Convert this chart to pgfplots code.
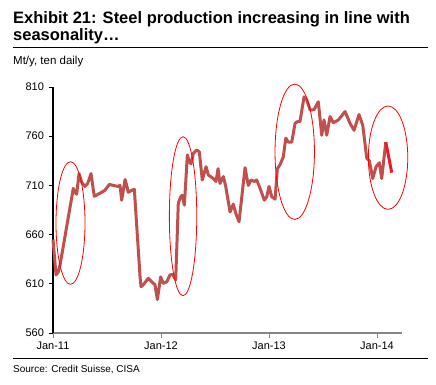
\documentclass[border=0pt]{standalone}
\usepackage{pgfplots}
\pgfplotsset{compat=1.18}
\usepackage{fontspec}
\setmainfont{Liberation Sans}
\definecolor{linered}{RGB}{192,80,77}
\definecolor{brightred}{RGB}{237,28,36}
\definecolor{axgray}{RGB}{134,134,134}
\begin{document}
\begin{tikzpicture}[x=1pt,y=1pt]
\useasboundingbox (0,0) rectangle (436,384);
% title
\node[anchor=base west,inner sep=0pt,font=\fontsize{16.5}{19}\selectfont\bfseries] at (13,360) {Exhibit 21: Steel production increasing in line with};
\node[anchor=base west,inner sep=0pt,font=\fontsize{16.5}{19}\selectfont\bfseries] at (13,344) {seasonality\ldots};
\draw[line width=1pt] (13,337) -- (428,337);
\node[anchor=base west,inner sep=0pt,font=\fontsize{11.5}{13}\selectfont] at (13,320) {Mt/y, ten daily};
\draw[line width=1pt] (13,25.7) -- (428,25.7);
\node[anchor=base west,inner sep=0pt,font=\fontsize{10}{12}\selectfont] at (13,11.7) {Source: Credit Suisse, CISA};
\begin{axis}[
  at={(53pt,51pt)}, anchor=south west,
  scale only axis, width=349pt, height=246pt,
  xmin=2011, xmax=2014.231, ymin=560, ymax=810,
  axis x line=bottom, axis y line=left,
  axis line style={-},
  x axis line style={draw=axgray,line width=1.4pt},
  y axis line style={draw=black,line width=1.1pt},
  xtick={2011,2012,2013,2014},
  xticklabels={Jan-11,Jan-12,Jan-13,Jan-14},
  ytick={560,610,660,710,760,810},
  tick style={line width=1pt},
  x tick style={draw=axgray},
  y tick style={draw=black},
  xtick align=outside, ytick align=outside,
  major tick length=4.5pt,
  tick label style={font=\fontsize{11}{13}\selectfont},
  /pgf/number format/assume math mode=true,
  /pgf/number format/1000 sep={},
  xticklabel style={yshift=-1pt},
  yticklabel style={xshift=-1pt},
  clip=false,
]
\addplot[linered, line width=3pt, line join=round] coordinates {
(2011.000,655) (2011.028,619) (2011.049,622) (2011.065,629) (2011.188,707)
(2011.204,703) (2011.219,701) (2011.241,722) (2011.266,713) (2011.296,709)
(2011.321,712) (2011.352,722) (2011.382,699) (2011.435,702) (2011.481,705)
(2011.521,711) (2011.558,710) (2011.599,709) (2011.620,710) (2011.636,695)
(2011.667,716) (2011.682,710) (2011.697,703) (2011.729,705) (2011.753,706)
(2011.806,617) (2011.815,607) (2011.836,609) (2011.882,615.6) (2011.914,612)
(2011.944,609) (2011.966,594) (2011.997,617) (2012.021,610.5) (2012.053,612)
(2012.083,619) (2012.108,619.6) (2012.136,614) (2012.160,692) (2012.182,698.5)
(2012.197,700) (2012.216,690) (2012.244,741) (2012.262,734) (2012.278,732)
(2012.299,742.6) (2012.331,746) (2012.355,744) (2012.382,715.5) (2012.417,729)
(2012.438,720.6) (2012.484,717) (2012.509,714) (2012.528,727) (2012.546,712)
(2012.577,719) (2012.599,709) (2012.639,683) (2012.669,691) (2012.692,681.6)
(2012.722,673) (2012.778,728) (2012.808,710) (2012.833,715.5) (2012.864,714)
(2012.886,715.5) (2012.917,707) (2012.956,695) (2012.979,698.5) (2013.000,709)
(2013.025,698.5) (2013.056,696) (2013.077,727) (2013.102,731) (2013.132,739)
(2013.155,758) (2013.179,754) (2013.210,754) (2013.241,773) (2013.266,775)
(2013.287,775) (2013.324,800) (2013.349,797) (2013.380,786.6) (2013.417,787)
(2013.456,795) (2013.488,761) (2013.509,776.5) (2013.534,761) (2013.565,780)
(2013.595,773.7) (2013.642,776.5) (2013.704,785) (2013.750,773) (2013.787,766)
(2013.833,782) (2013.868,771) (2013.905,737.5) (2013.929,735) (2013.960,717)
(2013.991,729) (2014.021,733) (2014.043,717) (2014.081,754)
};
\addplot[brightred, line width=3pt] coordinates {
(2014.081,754) (2014.136,723)
};
\draw[red, line width=0.8pt] (axis cs:2011.162,671.8) ellipse [x radius=14.5pt, y radius=61.3pt];
\draw[red, line width=0.8pt] (axis cs:2012.204,678.7) ellipse [x radius=13.7pt, y radius=79.5pt];
\draw[red, line width=0.8pt] (axis cs:2013.238,744.2) ellipse [x radius=19.7pt, y radius=67.7pt];
\draw[red, line width=0.8pt] (axis cs:2014.102,738.2) ellipse [x radius=19.7pt, y radius=51.7pt];
\end{axis}
\end{tikzpicture}
\end{document}
